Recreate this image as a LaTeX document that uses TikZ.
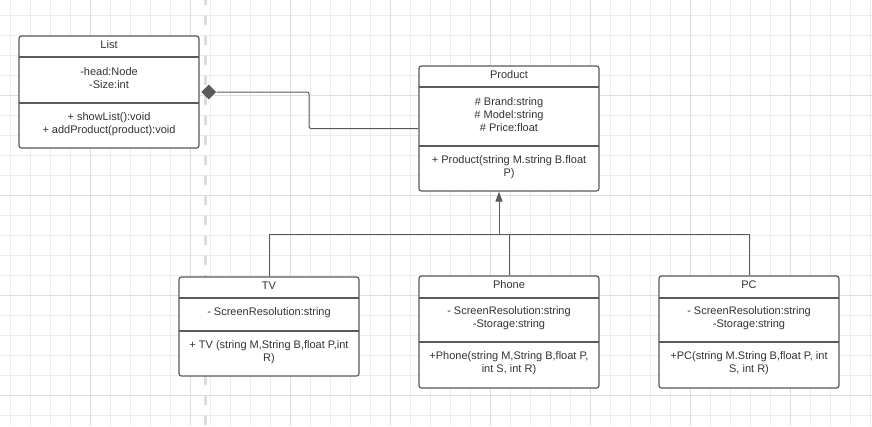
\documentclass[tikz,border=0pt]{standalone}
\usepackage{fontspec}
\setmainfont{Liberation Sans}
\usetikzlibrary{arrows.meta,shapes.geometric}
\definecolor{lc}{HTML}{5A5A5A}
\definecolor{tc}{HTML}{333333}
\definecolor{minorc}{HTML}{EDEDED}
\definecolor{majorc}{HTML}{DEDEDE}
\definecolor{dashc}{HTML}{DDDDDD}
\begin{document}
\begin{tikzpicture}[x=1pt,y=-1pt,
  conn/.style={draw=lc, line width=1pt},
  divider/.style={draw=lc, line width=1.1pt},
  umlbox/.style={draw=lc, line width=1.2pt, rounded corners=2.5pt, fill=white, inner sep=0pt, minimum width=180pt},
  txt/.style={text=tc, font=\fontsize{11}{13}\selectfont, align=center, inner sep=0pt}]
\fill[white] (0,0) rectangle (872,426);
\useasboundingbox (0,0) rectangle (872,426);
% grid
\foreach \x in {10,30,...,870} \draw[minorc, line width=0.7pt] (\x,0) -- (\x,426);
\foreach \y in {15,35,...,415} \draw[minorc, line width=0.7pt] (0,\y) -- (872,\y);
\foreach \x in {90,190,...,790} \draw[majorc, line width=0.8pt] (\x,0) -- (\x,426);
\foreach \y in {95,195,295,395} \draw[majorc, line width=0.8pt] (0,\y) -- (872,\y);
% dashed separator
\draw[dashc, line width=3pt, dash pattern=on 10pt off 10pt] (205.5,-5) -- (205.5,430);

% List
\node[umlbox, minimum height=112pt] (list) at (109,92) {};
\draw[divider] (19,57) -- (199,57);
\draw[divider] (19,103) -- (199,103);
\node[txt] (listT) at (109,45) {List};
\node[txt] (listA) at (109,78.5) {-head:Node\\-Size:int};
\node[txt] (listM) at (109,124) {+ showList():void\\+ addProduct(product):void};

% Product
\node[umlbox, minimum height=125pt] (product) at (509,128.5) {};
\draw[divider] (419,87) -- (599,87);
\draw[divider] (419,146) -- (599,146);
\node[txt] (prodT) at (509,75) {Product};
\node[txt] (prodA) at (509,115) {\# Brand:string\\\# Model:string\\\# Price:float};
\node[txt] (prodM) at (509,167.5) {+ Product(string M.string B.float\\P)};

% TV
\node[umlbox, minimum height=99pt] (tv) at (269,326.5) {};
\draw[divider] (179,298) -- (359,298);
\draw[divider] (179,331) -- (359,331);
\node[txt] (tvT) at (269,286) {TV};
\node[txt] (tvA) at (269,313) {- ScreenResolution:string};
\node[txt] (tvM) at (269,352.5) {+ TV (string M,String B,float P,int\\R)};

% Phone
\node[umlbox, minimum height=112pt] (phone) at (509,332) {};
\draw[divider] (419,298) -- (599,298);
\draw[divider] (419,342) -- (599,342);
\node[txt] (phT) at (509,285) {Phone};
\node[txt] (phA) at (509,318.5) {- ScreenResolution:string\\-Storage:string};
\node[txt] (phM) at (509,363.5) {+Phone(string M,String B,float P,\\int S, int R)};

% PC
\node[umlbox, minimum height=112pt] (pc) at (749,332) {};
\draw[divider] (659,298) -- (839,298);
\draw[divider] (659,342) -- (839,342);
\node[txt] (pcT) at (749,285) {PC};
\node[txt] (pcA) at (749,318.5) {- ScreenResolution:string\\-Storage:string};
\node[txt] (pcM) at (749,363.5) {+PC(string M.String B,float P, int\\S, int R)};

% composition
\node[diamond, fill=lc, inner sep=0pt, minimum width=15pt, minimum height=15pt, anchor=west] (dia) at ([xshift=1.5pt]list.east) {};
\coordinate (bend) at (309,110);
\draw[conn, rounded corners=2pt] (dia.east) -| (bend) |- (product.west);

% inheritance
\coordinate (hub) at (499,234);
\draw[conn, -{Triangle[length=10pt,width=7pt]}, lc] (hub) -- (hub |- product.south);
\draw[conn] (tv.north) |- (hub);
\draw[conn] (phone.north) |- (hub);
\draw[conn] (pc.north) |- (hub);
\end{tikzpicture}
\end{document}
